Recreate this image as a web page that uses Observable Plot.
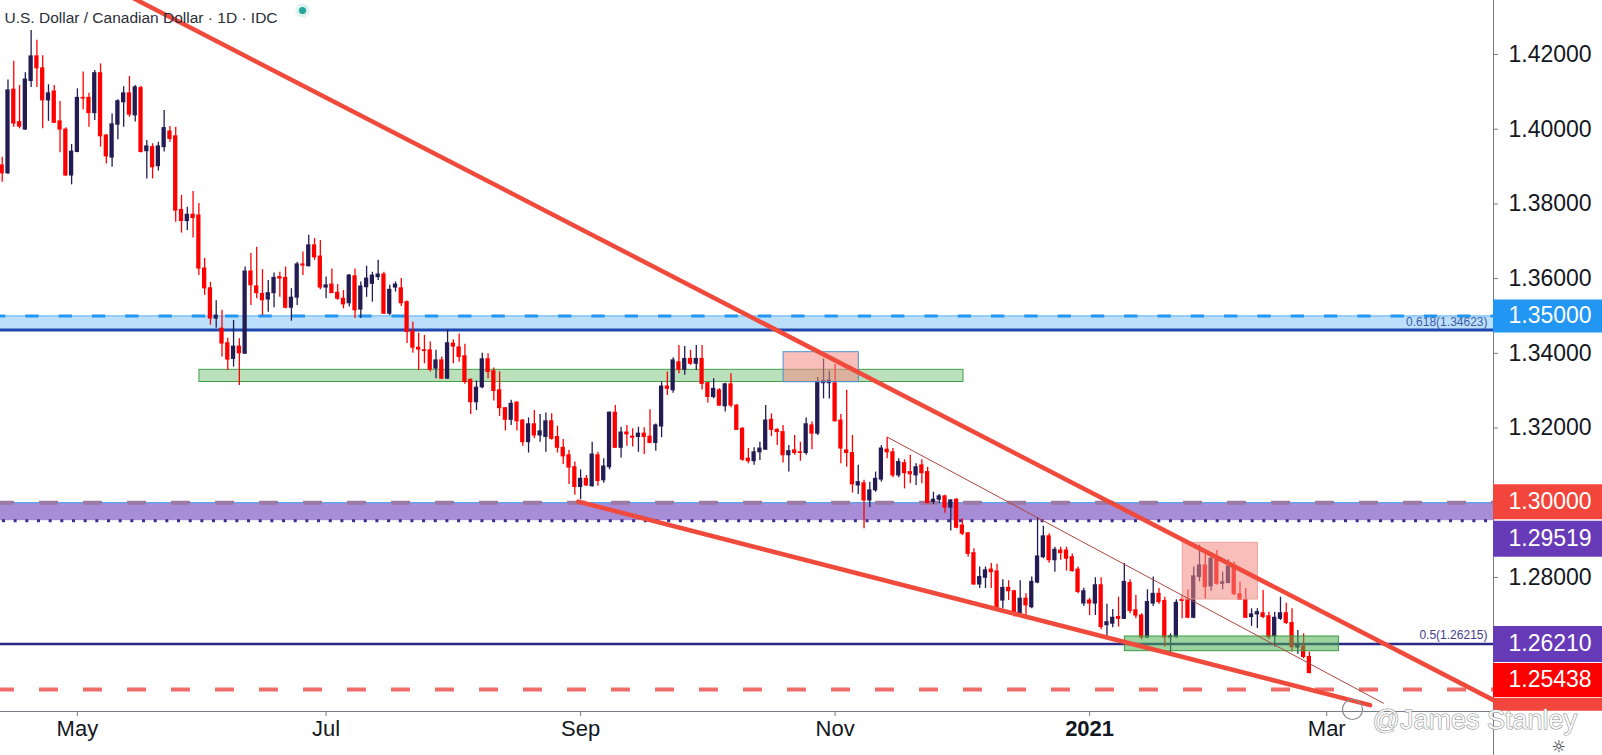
<!DOCTYPE html>
<html><head><meta charset="utf-8">
<script src="https://cdn.jsdelivr.net/npm/d3@7"></script>
<script src="https://cdn.jsdelivr.net/npm/@observablehq/plot@0.6"></script>
<style>html,body{margin:0;padding:0;background:#fff;overflow:hidden}#chart svg{display:block}</style>
</head><body><div id="chart"></div>
<script>
// ---- daily USD/CAD candles, first bar 2020-04-14 (weekdays) ----
const firstBarDate = "2020-04-14";
const opens = [1.3903,1.3882,1.4106,1.4019,1.3999,1.4129,1.4195,1.4163,1.4077,1.4101,1.4021,1.3999,1.3876,1.3939,1.4084,1.4084,1.4043,1.4150,1.3983,1.3924,
1.4012,1.4072,1.4096,1.4037,1.4110,1.3941,1.3952,1.3901,1.3952,1.3994,1.3981,1.3784,1.3754,1.3771,1.3769,1.3627,1.3574,1.3493,1.3466,1.3427,
1.3385,1.3418,1.3399,1.3619,1.3579,1.3559,1.3544,1.3561,1.3604,1.3602,1.3522,1.3549,1.3638,1.3633,1.3689,1.3659,1.3576,1.3584,1.3562,1.3546,
1.3534,1.3606,1.3517,1.3577,1.3586,1.3604,1.3611,1.3506,1.3576,1.3574,1.3537,1.3458,1.3415,1.3408,1.3408,1.3359,1.3381,1.3332,1.3426,1.3416,
1.3392,1.3329,1.3269,1.3309,1.3384,1.3352,1.3301,1.3253,1.3222,1.3268,1.3220,1.3162,1.3210,1.3180,1.3176,1.3218,1.3176,1.3147,1.3127,1.3095,
1.3042,1.3064,1.3044,1.3127,1.3060,1.3095,1.3241,1.3147,1.3188,1.3177,1.3176,1.3185,1.3177,1.3160,1.3204,1.3311,1.3301,1.3376,1.3356,1.3385,
1.3372,1.3385,1.3320,1.3283,1.3301,1.3258,1.3317,1.3260,1.3198,1.3118,1.3111,1.3135,1.3142,1.3222,1.3195,1.3189,1.3127,1.3140,1.3135,1.3133,
1.3207,1.3185,1.3320,1.3320,1.3320,1.3220,1.3140,1.3133,1.3046,1.3052,1.3006,1.3033,1.3062,1.3142,1.3135,1.3073,1.3106,1.3082,1.3073,1.3100,
1.3082,1.3002,1.3008,1.3017,1.2987,1.3008,1.2939,1.2918,1.2865,1.2781,1.2799,1.2821,1.2816,1.2738,1.2772,1.2763,1.2704,1.2743,1.2720,1.2786,
1.2854,1.2910,1.2846,1.2872,1.2872,1.2854,1.2821,1.2730,1.2738,1.2730,1.2779,1.2672,1.2676,1.2694,1.2689,1.2785,1.2712,1.2698,1.2639,1.2730,
1.2756,1.2737,1.2639,1.2640,1.2740,1.2740,1.2692,1.2801,1.2832,1.2776,1.2850,1.2783,1.2785,1.2829,1.2755,1.2740,1.2694,1.2701,1.2704,1.2696,
1.2642,1.2689,1.2704,1.2678,1.2612,1.2615,1.2587];
const highs = [1.3925,1.4132,1.4182,1.4117,1.4151,1.4264,1.4238,1.4197,1.4119,1.4117,1.4074,1.4004,1.3959,1.4108,1.4153,1.4096,1.4157,1.4175,1.3986,1.4041,
1.4079,1.4114,1.4141,1.4117,1.4115,1.3970,1.3961,1.3965,1.4050,1.4007,1.4005,1.3823,1.3791,1.3833,1.3801,1.3654,1.3590,1.3541,1.3515,1.3440,
1.3488,1.3439,1.3631,1.3667,1.3684,1.3624,1.3595,1.3615,1.3617,1.3631,1.3573,1.3644,1.3671,1.3716,1.3707,1.3702,1.3604,1.3626,1.3584,1.3568,
1.3611,1.3626,1.3591,1.3633,1.3617,1.3649,1.3617,1.3582,1.3591,1.3600,1.3540,1.3483,1.3454,1.3448,1.3430,1.3408,1.3390,1.3463,1.3436,1.3452,
1.3424,1.3331,1.3326,1.3400,1.3399,1.3361,1.3350,1.3255,1.3274,1.3270,1.3222,1.3227,1.3247,1.3236,1.3240,1.3238,1.3205,1.3169,1.3140,1.3109,
1.3088,1.3073,1.3162,1.3135,1.3118,1.3243,1.3260,1.3202,1.3207,1.3198,1.3202,1.3201,1.3249,1.3211,1.3323,1.3350,1.3388,1.3421,1.3418,1.3408,
1.3421,1.3421,1.3322,1.3332,1.3305,1.3320,1.3345,1.3262,1.3201,1.3145,1.3147,1.3162,1.3260,1.3238,1.3198,1.3207,1.3153,1.3180,1.3162,1.3227,
1.3216,1.3335,1.3385,1.3352,1.3370,1.3236,1.3301,1.3180,1.3100,1.3060,1.3055,1.3082,1.3153,1.3175,1.3145,1.3118,1.3115,1.3127,1.3104,1.3115,
1.3095,1.3028,1.3022,1.3020,1.3008,1.3011,1.2957,1.2920,1.2877,1.2828,1.2828,1.2837,1.2835,1.2794,1.2791,1.2765,1.2791,1.2756,1.2801,1.2960,
1.2937,1.2917,1.2881,1.2881,1.2881,1.2863,1.2828,1.2771,1.2744,1.2799,1.2799,1.2728,1.2714,1.2747,1.2837,1.2794,1.2752,1.2703,1.2767,1.2801,
1.2770,1.2747,1.2649,1.2740,1.2752,1.2767,1.2828,1.2886,1.2868,1.2865,1.2872,1.2814,1.2847,1.2841,1.2788,1.2770,1.2716,1.2716,1.2765,1.2707,
1.2707,1.2747,1.2731,1.2716,1.2658,1.2649,1.2600];
const lows = [1.3858,1.3879,1.4005,1.4001,1.3997,1.4112,1.4112,1.4001,1.4021,1.4015,1.3937,1.3874,1.3851,1.3937,1.4052,1.4005,1.4023,1.3952,1.3907,1.3898,
1.3972,1.4005,1.4032,1.4019,1.3936,1.3867,1.3867,1.3888,1.3939,1.3965,1.3751,1.3722,1.3729,1.3709,1.3608,1.3555,1.3475,1.3467,1.3390,1.3354,
1.3363,1.3314,1.3397,1.3528,1.3546,1.3501,1.3510,1.3522,1.3550,1.3519,1.3486,1.3528,1.3608,1.3631,1.3649,1.3570,1.3546,1.3560,1.3542,1.3519,
1.3524,1.3493,1.3493,1.3550,1.3537,1.3595,1.3504,1.3501,1.3564,1.3525,1.3426,1.3400,1.3354,1.3372,1.3350,1.3332,1.3330,1.3330,1.3372,1.3376,
1.3317,1.3236,1.3247,1.3305,1.3332,1.3272,1.3231,1.3192,1.3207,1.3192,1.3151,1.3133,1.3171,1.3162,1.3135,1.3167,1.3133,1.3102,1.3049,1.3020,
1.3008,1.3044,1.3042,1.3044,1.3052,1.3088,1.3145,1.3120,1.3151,1.3149,1.3135,1.3129,1.3158,1.3138,1.3174,1.3287,1.3293,1.3345,1.3341,1.3368,
1.3354,1.3302,1.3267,1.3278,1.3258,1.3243,1.3254,1.3194,1.3111,1.3104,1.3100,1.3113,1.3140,1.3177,1.3153,1.3106,1.3082,1.3127,1.3111,1.3127,
1.3142,1.3180,1.3278,1.3278,1.3216,1.3104,1.3095,1.3026,1.3022,1.2930,1.2987,1.3028,1.3055,1.3118,1.3067,1.3067,1.3037,1.3051,1.3046,1.3051,
1.2997,1.2995,1.2997,1.2972,1.2924,1.2930,1.2912,1.2854,1.2779,1.2770,1.2770,1.2770,1.2714,1.2716,1.2738,1.2694,1.2698,1.2698,1.2716,1.2783,
1.2850,1.2838,1.2814,1.2846,1.2817,1.2814,1.2756,1.2722,1.2698,1.2698,1.2660,1.2640,1.2665,1.2667,1.2687,1.2703,1.2689,1.2633,1.2636,1.2722,
1.2728,1.2613,1.2596,1.2637,1.2689,1.2689,1.2689,1.2788,1.2743,1.2763,1.2779,1.2767,1.2783,1.2752,1.2738,1.2690,1.2669,1.2663,1.2689,1.2633,
1.2613,1.2685,1.2674,1.2600,1.2594,1.2582,1.2542];
const closes = [1.3882,1.4104,1.4015,1.4007,1.4133,1.4195,1.4163,1.4077,1.4096,1.4017,1.3999,1.3876,1.3940,1.4084,1.4082,1.4043,1.4150,1.3981,1.3927,1.4013,
1.4075,1.4096,1.4039,1.4112,1.3939,1.3954,1.3898,1.3954,1.4003,1.3974,1.3782,1.3754,1.3771,1.3762,1.3627,1.3574,1.3493,1.3501,1.3426,1.3383,
1.3418,1.3400,1.3619,1.3582,1.3561,1.3542,1.3561,1.3602,1.3600,1.3522,1.3549,1.3638,1.3635,1.3689,1.3657,1.3576,1.3582,1.3561,1.3546,1.3531,
1.3608,1.3515,1.3579,1.3600,1.3608,1.3611,1.3506,1.3570,1.3584,1.3534,1.3457,1.3415,1.3410,1.3406,1.3356,1.3381,1.3332,1.3427,1.3418,1.3390,
1.3323,1.3269,1.3308,1.3384,1.3350,1.3299,1.3253,1.3222,1.3265,1.3218,1.3162,1.3210,1.3180,1.3191,1.3218,1.3171,1.3147,1.3124,1.3094,1.3042,
1.3064,1.3046,1.3129,1.3058,1.3097,1.3241,1.3147,1.3188,1.3183,1.3174,1.3185,1.3176,1.3160,1.3207,1.3311,1.3305,1.3381,1.3356,1.3385,1.3372,
1.3385,1.3318,1.3283,1.3305,1.3260,1.3317,1.3260,1.3195,1.3115,1.3111,1.3135,1.3145,1.3220,1.3195,1.3189,1.3127,1.3138,1.3133,1.3133,1.3210,
1.3185,1.3323,1.3326,1.3327,1.3218,1.3145,1.3133,1.3049,1.3055,1.3006,1.3033,1.3064,1.3145,1.3135,1.3073,1.3109,1.3079,1.3076,1.3095,1.3079,
1.2999,1.3008,1.3017,1.2987,1.3006,1.2933,1.2917,1.2863,1.2781,1.2801,1.2819,1.2814,1.2716,1.2772,1.2763,1.2703,1.2743,1.2725,1.2788,1.2856,
1.2910,1.2846,1.2874,1.2865,1.2850,1.2817,1.2761,1.2763,1.2730,1.2779,1.2667,1.2680,1.2692,1.2689,1.2788,1.2710,1.2698,1.2639,1.2734,1.2756,
1.2734,1.2639,1.2642,1.2732,1.2737,1.2692,1.2803,1.2832,1.2774,1.2850,1.2783,1.2787,1.2829,1.2755,1.2740,1.2692,1.2701,1.2707,1.2694,1.2640,
1.2692,1.2704,1.2678,1.2613,1.2618,1.2587,1.25438];

// ---- levels, zones, trendlines (bar index, price) ----
const levelFib618 = 1.34623, level135 = 1.35, level130 = 1.30, level12952 = 1.29519, levelFib50 = 1.26215, level125 = 1.25;
const greenZoneMid = {i1: 34.1, i2: 166.2, p1: 1.33232, p2: 1.33558};
const greenZoneFeb = {i1: 194.1, i2: 231.1, p1: 1.26025, p2: 1.26418};
const pinkBoxOct = {i1: 135.1, i2: 148.1, p1: 1.33227, p2: 1.34030};
const pinkBoxFeb = {i1: 204.1, i2: 217.1, p1: 1.27408, p2: 1.28926};
const upperTrend = [{i: 0, p: 1.4532}, {i: 258, p: 1.2470}];
const lowerTrend = [{i: 99.6, p: 1.3003}, {i: 236.5, p: 1.2458}];
const innerTrend = [{i: 153.1, p: 1.3175}, {i: 238.8, p: 1.2463}];
const yTicks = [1.42, 1.40, 1.38, 1.36, 1.34, 1.32, 1.28];
const monthTicks = [[2020,4,"May"],[2020,6,"Jul"],[2020,8,"Sep"],[2020,10,"Nov"],[2021,0,"2021"],[2021,2,"Mar"]];
const priceLabels = [
  {p: 1.35, text: "1.35000", color: "#2196f3", shift: 0, h: 33},
  {p: 1.30, text: "1.30000", color: "#f2453b", shift: -1, h: 35},
  {p: 1.29519, text: "1.29519", color: "#673ab7", shift: 18, h: 36},
  {p: 1.26215, text: "1.26210", color: "#673ab7", shift: 0, h: 36},
  {p: 1.25438, text: "1.25438", color: "#ff0000", shift: 7, h: 34},
  {p: 1.2470, text: "", color: "#f2453b", shift: 3.5, h: 13}
];

// ---- layout ----
const W = 1602, H = 755, mR = 109, mB = 44;
const xDomain = [-0.294, 257.83];
const yDomain = [1.2441, 1.43446];
const pxPerBar = (W - mR) / (xDomain[1] - xDomain[0]);
const pricePerPx = (yDomain[1] - yDomain[0]) / (H - mB);
const xFar = xDomain[1] + mR / pxPerBar;
const yFar = yDomain[0] - mB * pricePerPx;
const UP = "#231c52", DOWN = "#ff0000";
const FONT = "Liberation Sans, Arial, sans-serif";

// bar dates (weekdays) for month ticks
const dates = [];
{ let d = new Date(firstBarDate + "T12:00:00Z");
  while (dates.length < 262) { const wd = d.getUTCDay(); if (wd !== 0 && wd !== 6) dates.push(new Date(d)); d = new Date(d.getTime() + 86400000); } }
const xTicks = monthTicks.map(([y, m, label]) => ({i: dates.findIndex(d => d.getUTCFullYear() === y && d.getUTCMonth() === m), label}));

const candles = opens.map((o, i) => ({i, o, h: highs[i], l: lows[i], c: closes[i]}));
const ups = candles.filter(d => d.c >= d.o), downs = candles.filter(d => d.c < d.o);

const hRule = (p, o) => Plot.ruleY([p], {y: d => d, ...o});
const zone = (z, o) => Plot.rect([z], {x1: "i1", x2: "i2", y1: "p1", y2: "p2", ...o});

const plot = Plot.plot({
  width: W, height: H, marginLeft: 0, marginRight: mR, marginTop: 0, marginBottom: mB,
  x: {type: "linear", domain: xDomain, axis: null},
  y: {type: "linear", domain: yDomain, axis: null},
  style: {background: "#ffffff", fontFamily: FONT, overflow: "visible"},
  marks: [
    // zones behind candles
    Plot.rect([0], {x1: () => xDomain[0], x2: () => xDomain[1], y1: () => levelFib618, y2: () => level135, fill: "#90caf9", fillOpacity: 0.6}),
    Plot.rect([0], {x1: () => xDomain[0], x2: () => xDomain[1], y1: () => level12952, y2: () => level130, fill: "#7e57c2", fillOpacity: 0.68}),
    zone(greenZoneMid, {fill: "#66bb6a", fillOpacity: 0.45, stroke: "#43a047", strokeWidth: 1}),
    // horizontal levels
    hRule(level135, {stroke: "#64b5f6", strokeWidth: 1}),
    hRule(level135, {stroke: "#2196f3", strokeWidth: 3, strokeDasharray: "13.3,20", strokeDashoffset: 8}),
    hRule(levelFib618, {stroke: "#1e47b0", strokeWidth: 3}),
    hRule(level130, {stroke: "#42a5f5", strokeWidth: 1}),
    hRule(level130, {stroke: "#9d7aa3", strokeWidth: 4, strokeDasharray: "19,25", strokeDashoffset: 5}),
    hRule(level12952, {stroke: "#3b2c8e", strokeWidth: 3, strokeDasharray: "3,8.67", strokeDashoffset: 9.7}),
    hRule(levelFib50, {stroke: "#2c2886", strokeWidth: 2.5}),
    hRule(level125, {stroke: "#ef5350", strokeOpacity: 0.85, strokeWidth: 4, strokeDasharray: "19,25", strokeDashoffset: 5}),
    // candles
    Plot.ruleX(ups, {x: "i", y1: "l", y2: "h", stroke: UP, strokeWidth: 1.3}),
    Plot.ruleX(downs, {x: "i", y1: "l", y2: "h", stroke: DOWN, strokeWidth: 1.3}),
    Plot.rect(ups, {x1: d => d.i - 0.37, x2: d => d.i + 0.37, y1: "o", y2: "c", fill: UP, insetTop: -0.5, insetBottom: -0.5}),
    Plot.rect(downs, {x1: d => d.i - 0.37, x2: d => d.i + 0.37, y1: "o", y2: "c", fill: DOWN, insetTop: -0.5, insetBottom: -0.5}),
    // overlays on top of candles
    zone(pinkBoxOct, {fill: "#f28b82", fillOpacity: 0.55, stroke: "#4a90d9", strokeWidth: 1}),
    zone(pinkBoxFeb, {fill: "#f28b82", fillOpacity: 0.55, stroke: "#eda39c", strokeWidth: 1}),
    zone(greenZoneFeb, {fill: "#4caf50", fillOpacity: 0.55, stroke: "#3d9a40", strokeWidth: 1}),
    // trendlines
    Plot.line(innerTrend, {x: "i", y: "p", stroke: "#b0463f", strokeWidth: 1, clip: true}),
    Plot.line(lowerTrend, {x: "i", y: "p", stroke: "#f04a3c", strokeWidth: 4.5, clip: true}),
    Plot.line(upperTrend, {x: "i", y: "p", stroke: "#f04a3c", strokeWidth: 4.5, clip: true}),
    // fib labels
    Plot.text([levelFib618], {y: d => d, frameAnchor: "right", dx: -6, dy: -8, textAnchor: "end", text: () => "0.618(1.34623)", fontSize: 12, fill: "#3d5ca6"}),
    Plot.text([levelFib50], {y: d => d, frameAnchor: "right", dx: -6, dy: -9, textAnchor: "end", text: () => "0.5(1.26215)", fontSize: 12, fill: "#3f3a8f"}),
    // axes lines
    Plot.ruleY([yDomain[0]], {y: d => d, stroke: "#787b86", strokeWidth: 1}),
    Plot.ruleX([xDomain[1]], {x: d => d, y1: () => yFar, y2: () => yDomain[1], stroke: "#787b86", strokeWidth: 1}),
    // y ticks and labels
    Plot.ruleY(yTicks, {y: d => d, x1: () => xDomain[1], x2: () => xDomain[1] + 5 / pxPerBar, stroke: "#787b86"}),
    Plot.text(yTicks, {y: d => d, frameAnchor: "right", dx: 15, textAnchor: "start", text: d => d.toFixed(5), fontSize: 23, fill: "#131722"}),
    // x ticks and labels
    Plot.ruleX(xTicks, {x: "i", y1: () => yDomain[0], y2: () => yDomain[0] - 5 * pricePerPx, stroke: "#787b86"}),
    Plot.text(xTicks.filter(d => d.label !== "2021"), {x: "i", frameAnchor: "bottom", dy: 24, text: "label", fontSize: 22, fill: "#131722"}),
    Plot.text(xTicks.filter(d => d.label === "2021"), {x: "i", frameAnchor: "bottom", dy: 24, text: "label", fontSize: 22, fontWeight: "bold", fill: "#131722"}),
    // price labels on the right
    ...priceLabels.map(d => Plot.ruleY([d], {y: q => q.p - q.shift * pricePerPx, x1: () => xDomain[1], x2: () => xFar, stroke: d.color, strokeWidth: d.h})),
    Plot.text(priceLabels.filter(d => d.text), {y: q => q.p - q.shift * pricePerPx, frameAnchor: "right", dx: 15, textAnchor: "start", text: "text", fontSize: 23, fill: "#ffffff"}),
    // header
    Plot.text(["U.S. Dollar / Canadian Dollar · 1D · IDC"], {frameAnchor: "top-left", dx: 4, dy: 11, textAnchor: "start", text: d => d, fontSize: 15.5, fill: "#2a2e39"}),
    Plot.dot([0], {frameAnchor: "top-left", dx: 302, dy: 10, r: 7, fill: "#26a69a", fillOpacity: 0.15}),
    Plot.dot([0], {frameAnchor: "top-left", dx: 302, dy: 10, r: 3.6, fill: "#26a69a"}),
    // watermark and settings icon
    Plot.dot([0], {frameAnchor: "top-left", dx: 1352, dy: 709, r: 10, stroke: "#8c8c8c", fill: "none", strokeWidth: 1.2}),
    Plot.text(["@James Stanley"], {frameAnchor: "top-left", dx: 1372, dy: 709, textAnchor: "start", text: d => d, fontSize: 27, fill: "#ffffff", fillOpacity: 0.85, stroke: "#8c8c8c", strokeWidth: 1}),
    Plot.text(["☼"], {frameAnchor: "top-left", dx: 1551, dy: 740, text: d => d, fontSize: 16, fill: "#131722", fontFamily: "DejaVu Sans"})
  ]
});
document.getElementById("chart").append(plot);
</script>
</body></html>
